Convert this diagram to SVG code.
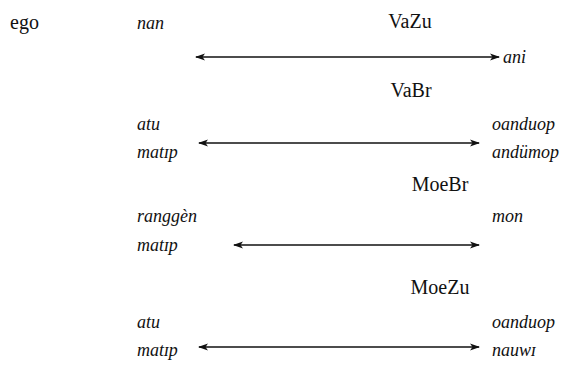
<svg xmlns="http://www.w3.org/2000/svg" width="587" height="375" viewBox="0 0 587 375">
<style>
text{font-family:"Liberation Serif","DejaVu Serif",serif;font-size:20px;fill:#111}
.i{font-style:italic;font-size:18px}
.c{stroke:#111;stroke-width:1.3;fill:none}
</style>
<defs>
<marker id="ah" viewBox="0 0 10 8" refX="9" refY="4" markerWidth="10" markerHeight="8" markerUnits="userSpaceOnUse" orient="auto-start-reverse">
<path d="M0,0.5 L10,4 L0,7.5 L2.5,4 Z" fill="#111"/>
</marker>
</defs>
<rect width="587" height="375" fill="#fff"/>
<g id="ego"><text x="10" y="29">ego</text></g>
<g id="row1">
<text class="i" x="137" y="29">nan</text>
<text x="410" y="28" text-anchor="middle">VaZu</text>
<text class="i" x="503" y="63">ani</text>
</g>
<g id="row2">
<text x="411" y="97" text-anchor="middle">VaBr</text>
<text class="i" x="137" y="130">atu</text>
<text class="i" x="137" y="158">matɪp</text>
<text class="i" x="492" y="130">oanduop</text>
<text class="i" x="492" y="158">andümop</text>
</g>
<g id="row3">
<text x="440" y="191" text-anchor="middle">MoeBr</text>
<text class="i" x="137" y="222">ranggèn</text>
<text class="i" x="137" y="251">matɪp</text>
<text class="i" x="492" y="222">mon</text>
</g>
<g id="row4">
<text x="440" y="294" text-anchor="middle">MoeZu</text>
<text class="i" x="137" y="328">atu</text>
<text class="i" x="137" y="356">matɪp</text>
<text class="i" x="492" y="328">oanduop</text>
<text class="i" x="492" y="356">nauwɪ</text>
</g>
<g id="connectors">
<line class="c" x1="196" y1="57" x2="499" y2="57" marker-start="url(#ah)" marker-end="url(#ah)"/>
<line class="c" x1="199" y1="143" x2="479" y2="143" marker-start="url(#ah)" marker-end="url(#ah)"/>
<line class="c" x1="234" y1="245" x2="479" y2="245" marker-start="url(#ah)" marker-end="url(#ah)"/>
<line class="c" x1="199" y1="347" x2="479" y2="347" marker-start="url(#ah)" marker-end="url(#ah)"/>
</g>
</svg>
